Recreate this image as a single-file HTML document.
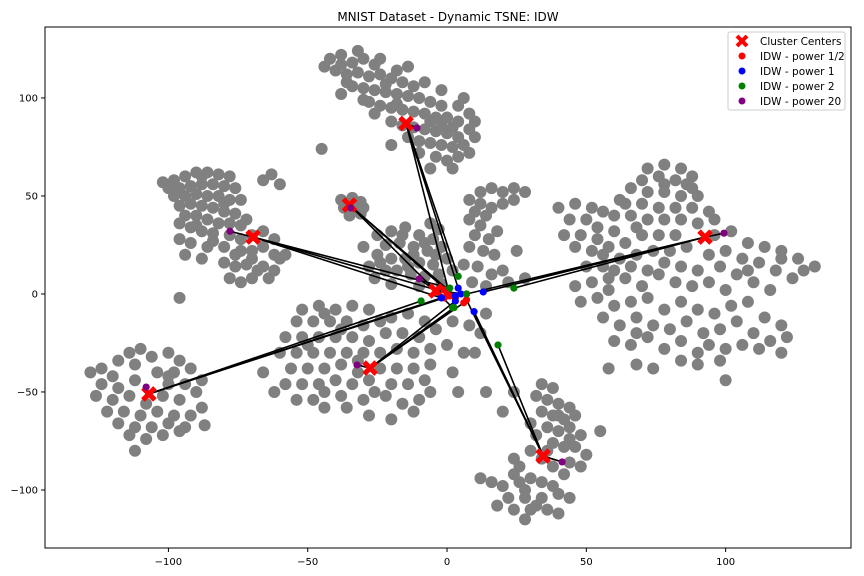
<!DOCTYPE html>
<html><head><meta charset="utf-8"><style>
body{margin:0;background:#fff}
svg{display:block;font-family:"DejaVu Sans","Liberation Sans",sans-serif}
</style></head><body>
<svg id="chart" width="864" height="576">
<text x="448" y="21" text-anchor="middle" font-size="12">MNIST Dataset - Dynamic TSNE: IDW</text>
<g id="gray"></g>
<g id="lines"></g>
<g id="marks"></g>
<g id="axes"></g>
<g>
<rect x="728" y="32" width="117" height="78" rx="2" fill="#fff" fill-opacity="0.8" stroke="#ccc"/>
<path d="M737,36 L747,46 M747,36 L737,46" stroke="red" stroke-width="4"/>
<text x="760" y="45" font-size="10.5">Cluster Centers</text>
<circle cx="742" cy="56" r="3.5" fill="red"/>
<text x="760" y="60" font-size="10.5">IDW - power 1/2</text>
<circle cx="742" cy="71" r="3.5" fill="blue"/>
<text x="760" y="75" font-size="10.5">IDW - power 1</text>
<circle cx="742" cy="86" r="3.5" fill="green"/>
<text x="760" y="90" font-size="10.5">IDW - power 2</text>
<circle cx="742" cy="101" r="3.5" fill="purple"/>
<text x="760" y="105" font-size="10.5">IDW - power 20</text>
</g>
</svg>
<script>
const xTicks=[-100,-50,0,50,100];
const yTicks=[-100,-50,0,50,100];
const centersX=[-14.7,-35,-69.6,-107,-27.6,34.5,92.6,-4];
const centersY=[87,45.4,29,-51,-37.8,-82.7,29,1.5];
const redX=[1,3,0,-1,6,7,7,-1];
const redY=[-1,-2,0.5,-2,-4.5,-3,0,2];
const blueX=[4,3,-2,-2,3,9.7,13,5];
const blueY=[3,-1,-2,-2,-3.6,-9,1,0];
const greenX=[4,2,1,-9.3,2.5,18.3,24,7];
const greenY=[9,-7,3,-3.6,-7,-26,3,0];
const purpleX=[-10.8,-34.6,-77.9,-108,-32.3,41.3,99.4,-10];
const purpleY=[84.7,43.9,32,-47.5,-36.2,-85.7,31,7.7];
const grayPts=[
[-42,120],[-38,122],[-34,118],[-30,120],[-26,117],[-40,114],[-36,112],[-32,113],[-28,111],[-24,112],[-20,110],[-16,108],[-34,106],[-30,105],[-26,104],[-22,103],[-18,102],[-14,101],[-10,100],[-6,98],[-2,96],[-28,98],[-24,96],[-20,95],[-16,94],[-12,93],[-8,92],[-4,90],[0,90],[4,88],[-20,88],[-16,86],[-12,85],[-8,84],[-4,83],[0,82],[4,80],[-10,78],[-6,77],[-2,76],[2,75],[6,76],[-4,70],[0,68],[4,70],[8,72],[-45,74],[-30,99],[-12,106],[-38,117],[-22,107],[-18,97],[-6,88],[2,85],
[4,96],[8,92],[8,84],[10,80],[6,100],[-36,108],[-32,124],[-24,120],[-18,114],[-8,108],[-2,104],[-38,102],[-26,92],[-14,80],[-10,72],[-6,64],[2,64],[10,88],[-14,116],[-44,116],[-2,86],[-20,76],
[-102,57],[-98,58],[-94,60],[-90,62],[-86,62],[-82,61],[-78,60],[-96,54],[-92,55],[-88,56],[-84,56],[-80,55],[-76,54],[-98,50],[-94,50],[-90,51],[-86,50],[-82,50],[-78,48],[-74,48],[-96,45],[-92,46],[-88,45],[-84,44],[-80,42],[-76,41],[-94,40],[-90,40],[-86,38],[-82,36],[-78,36],[-74,35],[-92,34],[-88,32],[-84,31],[-78,30],[-74,28],[-70,30],[-66,32],[-62,28],[-96,28],[-92,26],[-86,24],[-80,24],[-74,22],[-70,22],[-66,24],[-62,20],[-58,20],[-94,20],[-88,18],[-80,16],[-76,14],[-72,15],[-66,14],[-62,12],[-60,18],[-78,8],[-74,6],[-70,8],[-64,8],[-66,58],[-63,61],[-60,56],[-96,-2],
[-100,54],[-88,60],[-80,46],[-90,35],[-84,27],[-70,18],[-68,12],[-72,38],[-96,36],[-76,20],
[-38,48],[-34,49],[-31,47],[-37,44],[-33,43],[-30,44],[-35,40],[-31,41],
[-25,30],[-20,32],[-15,34],[-10,30],[-5,28],[-22,25],[-17,26],[-12,24],[-7,22],[-2,24],[-25,20],[-20,18],[-15,18],[-10,16],[-5,15],[0,18],[-18,12],[-13,10],[-8,9],[-3,10],[2,12],[-22,12],[-10,4],[-20,5],[-26,8],[-6,36],[-3,33],[-28,14],[-30,24],[-2,5],
[-16,30],[-8,26],[-14,14],[-4,20],[-24,16],[-12,20],
[8,38],[12,35],[10,30],[15,28],[18,32],[8,24],[13,22],[17,20],[6,15],[11,14],[16,10],[20,12],[9,6],[14,4],[22,6],[25,22],[28,8],
[8,48],[12,52],[16,54],[20,52],[24,54],[28,52],[12,46],[16,44],[20,46],[24,48],[14,40],[10,42],
[72,64],[78,66],[84,64],[88,60],[70,58],[76,60],[82,58],[88,54],[66,54],[72,52],[78,52],[84,50],[90,50],[64,46],[70,46],[76,44],[82,44],[88,44],[94,42],[60,40],[66,40],[72,38],[78,38],[84,38],[90,36],[96,38],
[40,44],[46,46],[52,44],[56,42],[44,38],[50,38],[54,34],[42,30],[48,30],[54,28],[60,32],[46,24],[52,22],[58,24],[64,26],[70,30],[76,30],[82,30],[50,14],[56,14],[62,18],[68,20],[74,22],[80,22],[86,24],
[96,30],[102,32],[108,26],[114,24],[120,22],[126,18],[132,14],[100,22],[106,18],[112,16],[118,12],[124,8],[104,10],[110,6],[116,2],[98,14],[120,18],[128,12],
[46,4],[52,6],[58,2],[64,8],[70,4],[76,10],[82,6],[88,4],[94,6],[100,2],[48,-4],[54,-2],[60,-6],[66,-4],[72,-2],[78,-8],[84,-4],[90,-8],[96,-10],[102,-6],[108,-4],[114,-12],[120,-16],[56,-12],[62,-16],[68,-12],[74,-16],[80,-18],[86,-14],[92,-20],[98,-18],[104,-14],[110,-20],[116,-24],[122,-22],[60,-24],[66,-26],[72,-22],[78,-28],[84,-24],[90,-30],[100,-28],[106,-26],[112,-28],[68,-36],[74,-38],[84,-34],[90,-36],[98,-34],[120,-30],[100,-44],[58,-38],
[60,12],[66,14],[72,12],[78,16],[84,14],[90,12],[94,20],[58,8],[68,-20],[94,-26],[62,48],[78,56],[86,56],[68,34],[56,20],[108,12],
[-128,-40],[-124,-38],[-120,-42],[-114,-30],[-110,-28],[-106,-32],[-100,-30],[-96,-34],[-118,-34],[-112,-36],[-104,-40],[-98,-40],[-92,-38],[-124,-46],[-118,-48],[-112,-44],[-100,-46],[-94,-46],[-88,-44],[-126,-52],[-120,-54],[-114,-52],[-108,-56],[-102,-52],[-96,-54],[-90,-50],[-122,-60],[-116,-60],[-110,-62],[-104,-60],[-98,-62],[-92,-62],[-88,-58],[-118,-66],[-112,-68],[-106,-68],[-100,-66],[-94,-68],[-114,-72],[-108,-74],[-102,-72],[-96,-70],[-112,-80],[-100,-42],[-87,-67],
[-52,-8],[-46,-6],[-40,-8],[-34,-6],[-28,-8],[-54,-14],[-48,-14],[-42,-14],[-36,-14],[-30,-16],[-20,-12],[-14,-10],[-8,-14],[-58,-22],[-52,-22],[-46,-22],[-40,-22],[-34,-22],[-28,-24],[-22,-20],[-16,-20],[-10,-22],[-4,-18],[-60,-30],[-54,-30],[-48,-30],[-42,-30],[-36,-30],[-30,-30],[-24,-30],[-18,-28],[-12,-30],[-6,-28],[0,-26],[-56,-38],[-50,-38],[-44,-38],[-38,-36],[-32,-40],[-24,-38],[-18,-38],[-12,-38],[-6,-36],[-58,-46],[-52,-46],[-46,-46],[-40,-44],[-34,-46],[-28,-44],[-20,-46],[-14,-46],[-8,-44],[-54,-54],[-48,-54],[-38,-52],[-30,-54],[-22,-52],[-16,-56],[-10,-54],[-44,-58],[-28,-62],[-20,-64],[-12,-60],[-62,-50],[2,-40],[6,-30],[2,-14],[8,-16],[12,-20],[10,-30],[14,-10],[4,-50],[-66,-40],
[-44,-10],[-38,-18],[-24,-14],[-50,-26],[-32,-34],[-44,-50],[-26,-50],[-6,-50],[-36,-58],
[34,-46],[38,-48],[32,-52],[36,-54],[40,-56],[44,-58],[34,-60],[38,-62],[42,-64],[46,-62],[30,-66],[36,-68],[40,-70],[44,-68],[48,-72],[32,-72],[38,-76],[42,-78],[46,-78],[50,-82],[30,-80],[34,-84],[44,-86],[48,-88],[24,-84],[26,-88],[38,-88],[42,-92],[20,-98],[26,-96],[30,-94],[34,-96],[38,-98],[22,-104],[28,-104],[34,-104],[40,-102],[44,-104],[18,-108],[24,-110],[30,-110],[36,-110],[40,-112],[28,-115],[16,-96],[12,-94],[55,-70],[20,-60],[14,-50],[24,-50],
[40,-62],[36,-80],[28,-100],[32,-108],[24,-92],[44,-74]
];
const L=45,R=851,T=27,B=548;
const xMin=-144.3,xMax=145,yMin=-129.6,yMax=136.2;
const sx=v=>L+(v-xMin)/(xMax-xMin)*(R-L);
const sy=v=>B-(v-yMin)/(yMax-yMin)*(B-T);
const NS="http://www.w3.org/2000/svg";
function mk(tag,attrs,parent){const e=document.createElementNS(NS,tag);for(const k in attrs)e.setAttribute(k,attrs[k]);parent.appendChild(e);return e;}
const gG=document.getElementById('gray');
grayPts.forEach(p=>{
 const c=mk('circle',{cx:sx(p[0]),cy:sy(p[1]),r:6,fill:'#808080'},gG);
 
 
});
const lG=document.getElementById('lines');
const sets=[[redX,redY],[blueX,blueY],[greenX,greenY],[purpleX,purpleY]];
centersX.forEach((cx,i)=>{
 sets.forEach(s=>{
  const ln=mk('line',{x1:sx(cx),y1:sy(centersY[i]),x2:sx(s[0][i]),y2:sy(s[1][i]),stroke:'#000','stroke-width':1.6},lG);
  
  
 });
});
const mG=document.getElementById('marks');
centersX.forEach((cx,i)=>{
 const x=sx(cx),y=sy(centersY[i]);
 const p=mk('path',{d:`M${x-6},${y-6}L${x+6},${y+6}M${x+6},${y-6}L${x-6},${y+6}`,stroke:'red','stroke-width':5},mG);
 
 
});
const cols=['red','blue','green','purple'];
sets.forEach((s,k)=>{
 s[0].forEach((v,i)=>{
  const c=mk('circle',{cx:sx(v),cy:sy(s[1][i]),r:3.6,fill:cols[k]},mG);
  
  
 });
});
const aG=document.getElementById('axes');
const fr=mk('rect',{x:L,y:T,width:R-L,height:B-T,fill:'none',stroke:'#000','stroke-width':1},aG);


xTicks.forEach(t=>{
 const x=sx(t);
 mk('line',{x1:x,y1:B,x2:x,y2:B+4,stroke:'#000'},aG);
 const tx=mk('text',{x:x,y:B+17,'text-anchor':'middle','font-size':10},aG);
 tx.textContent=t<0?'\u2212'+(-t):t;
 
 
});
yTicks.forEach(t=>{
 const y=sy(t);
 mk('line',{x1:L-4,y1:y,x2:L,y2:y,stroke:'#000'},aG);
 const tx=mk('text',{x:L-7,y:y+3.5,'text-anchor':'end','font-size':10},aG);
 tx.textContent=t<0?'\u2212'+(-t):t;
 
 
});
</script>
</body></html>
